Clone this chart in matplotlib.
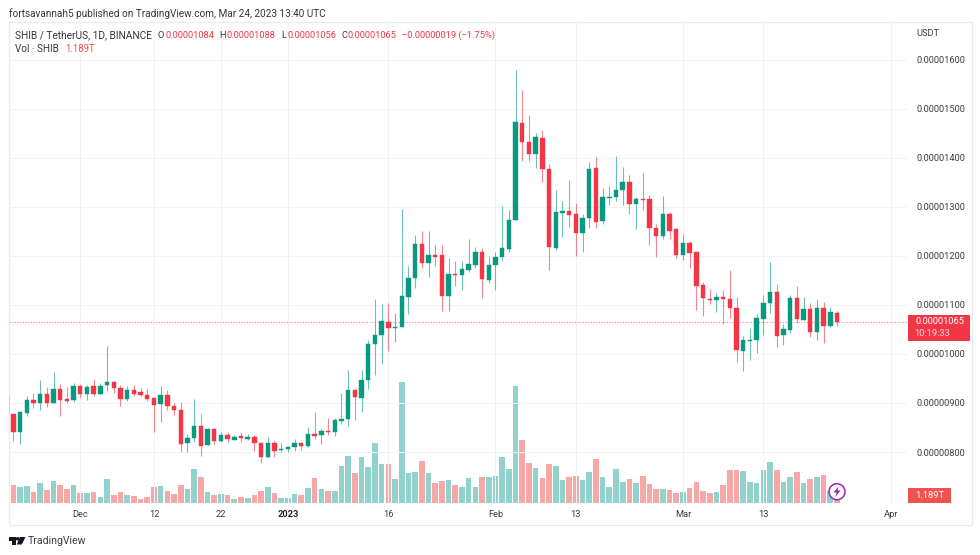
import matplotlib
matplotlib.use("Agg")
import matplotlib.pyplot as plt
from matplotlib.patches import Rectangle, Polygon, Ellipse
from matplotlib.ticker import FuncFormatter

plt.rcParams['font.family'] = ['Roboto', 'DejaVu Sans']

W, H = 980, 555

# days counted from 1 Dec 2022; prices in 1e-8 USDT, volume in trillions of SHIB
first_day = -11
opens = [915,878,841,880,906,900,918,900,928,909,906,
         935,919,934,918,936,942,931,908,927,922,
         917,910,897,917,894,886,818,829,853,814,
         846,823,834,824,832,826,830,819,790,819,
         804,806,811,819,813,837,835,843,841,864,
         867,926,911,946,1021,1039,1065,1053,1055,1116,
         1154,1223,1186,1201,1201,1119,1163,1161,1171,1182,
         1208,1150,1182,1197,1214,1272,1471,1432,1408,1440,
         1377,1215,1288,1291,1285,1247,1276,1378,1270,1317,
         1319,1334,1351,1306,1316,1316,1256,1241,1285,1254,
         1202,1226,1207,1140,1112,1110,1116,1112,1094,1006,
         1026,1029,1072,1103,1126,1038,1049,1114,1070,1092,
         1044,1094,1057,1084]
highs = [915,878,884,915,921,947,932,964,938,932,940,
         938,936,949,940,1016,945,937,934,937,930,
         928,911,935,926,900,902,836,909,878,849,
         848,841,841,834,839,836,834,819,830,823,
         819,813,826,821,851,881,847,870,869,920,
         968,927,968,1029,1112,1102,1103,1083,1296,1179,
         1243,1251,1251,1222,1222,1195,1190,1190,1234,1218,
         1215,1200,1207,1301,1293,1579,1538,1486,1451,1457,
         1387,1334,1312,1355,1307,1285,1391,1402,1338,1343,
         1403,1380,1364,1319,1369,1324,1265,1321,1289,1256,
         1245,1230,1207,1146,1133,1124,1131,1170,1116,1036,
         1052,1082,1120,1187,1143,1061,1120,1138,1116,1103,
         1111,1106,1096,1088]
lows = [878,823,817,874,889,885,892,900,874,900,901,
        910,906,915,918,925,921,893,904,915,915,
        905,840,861,885,875,800,800,820,792,814,
        816,820,820,824,820,824,803,777,788,790,
        800,800,802,804,811,827,817,835,832,858,
        854,866,881,929,957,980,1006,1025,1055,1082,
        1134,1176,1156,1179,1087,1087,1138,1130,1166,1176,
        1113,1145,1131,1192,1207,1272,1394,1394,1378,1351,
        1172,1211,1239,1258,1199,1207,1256,1257,1264,1304,
        1311,1304,1285,1254,1294,1222,1198,1234,1234,1196,
        1192,1175,1089,1078,1101,1086,1061,1073,983,965,
        988,1002,1038,1083,1015,1019,1042,1063,1070,1034,
        1029,1023,1054,1056]
closes = [878,841,881,906,900,919,900,928,907,905,935,
          919,932,918,935,942,930,908,927,919,917,
          908,896,916,894,885,817,828,853,813,846,
          823,834,826,831,828,831,818,790,819,803,
          807,811,819,813,836,833,843,841,865,867,
          927,913,947,1021,1039,1067,1052,1055,1118,1155,
          1224,1186,1201,1198,1119,1163,1161,1174,1183,1208,
          1152,1182,1198,1215,1273,1473,1431,1408,1442,1376,
          1217,1289,1291,1284,1247,1277,1376,1269,1319,1320,
          1334,1351,1306,1316,1314,1256,1241,1285,1251,1202,
          1227,1206,1139,1113,1109,1116,1112,1093,1007,1028,
          1029,1073,1104,1127,1037,1050,1114,1071,1092,1044,
          1093,1057,1085,1065]
volumes = [2.04,3.06,2.60,2.83,1.81,3.40,2.15,3.62,3.06,2.26,3.06,
           1.58,1.58,1.81,1.02,4.08,1.36,1.81,1.36,1.13,0.68,
           1.02,2.60,2.83,1.92,1.47,3.06,2.38,5.66,4.30,1.81,
           1.36,1.47,1.25,0.57,1.02,0.79,1.25,2.04,2.72,1.58,
           0.79,0.79,1.47,1.36,2.49,4.19,2.38,2.04,1.92,6.23,
           7.92,5.09,7.81,6.11,10.07,6.57,6.57,3.96,20.43,4.98,
           5.21,7.02,4.98,3.28,3.62,3.85,2.94,2.60,4.19,2.72,
           4.41,4.30,4.53,7.70,5.77,19.75,10.64,6.68,5.89,4.19,
           6.57,6.23,3.85,4.41,4.53,3.85,5.21,7.47,4.30,2.60,
           5.66,3.51,3.96,3.28,4.53,3.17,2.38,2.26,2.15,1.70,
           1.81,2.49,3.51,2.04,1.58,1.81,3.06,5.55,5.55,5.43,
           3.51,3.40,5.55,6.91,5.55,3.51,4.30,5.21,3.40,3.96,
           4.41,4.64,1.92,1.189]
price_ticks = [800,900,1000,1100,1200,1300,1400,1500,1600]
date_ticks = [0,11,21,31,46,62,74,90,102,121]
date_labels = ['Dec','12','22','2023','16','Feb','13','Mar','13','Apr']
last_price = 1065

UP, DOWN = '#089981', '#f23645'
VUP, VDOWN = '#26a69a', '#ef5350'
GRID = '#f2f3f6'
FRAME = '#e9ebf0'
TXT = '#3a3d45'

days = [first_day + i for i in range(len(opens))]
cols = [DOWN if c < o else UP for o, c in zip(opens, closes)]
vcols = [VDOWN if c < o else VUP for o, c in zip(opens, closes)]

fig = plt.figure(figsize=(W/100, H/100), dpi=100, facecolor='white')

L, R, T, B = 8.5, 906.7, 22.0, 502.7
def rect(l, t, w, h):
    return [l/W, 1-(t+h)/H, w/W, h/H]
def fx(x): return x/W
def fy(y): return 1-y/H

ax = fig.add_axes(rect(L, T, R-L, B-T))
ax.set_xlim(-10.72, 123.41)
ax.set_ylim(696.7, 1676.5)
vax = ax.twinx()
vax.set_ylim(0, 81.7)
ax.set_zorder(vax.get_zorder()+1)
ax.patch.set_visible(False)
vax.patch.set_facecolor('white')

for s in list(ax.spines.values())+list(vax.spines.values()):
    s.set_visible(False)

vax.set_yticks([])
vax.bar(days, volumes, width=0.84, color=vcols, alpha=0.5, linewidth=0, zorder=2)

ax.set_axisbelow(True)
ax.set_yticks(price_ticks)
ax.yaxis.tick_right()
ax.yaxis.set_major_formatter(FuncFormatter(lambda v, p: f"{v*1e-8:.8f}"))
ax.set_xticks(date_ticks)
ax.set_xticklabels(date_labels)
ax.tick_params(axis='both', length=0, labelsize=6.7, labelcolor=TXT)
ax.tick_params(axis='y', pad=7)
ax.tick_params(axis='x', pad=5.5)
for lbl in ax.get_xticklabels():
    if lbl.get_text() == '2023':
        lbl.set_fontweight('bold')
        lbl.set_color('#222222')
ax.grid(True, color=GRID, linewidth=0.72)

ax.vlines(days, lows, highs, colors=cols, linewidth=0.8, alpha=0.6, zorder=3)
ax.bar(days, [abs(c-o) for o, c in zip(opens, closes)],
       bottom=[min(o, c) for o, c in zip(opens, closes)],
       width=0.66, color=cols, edgecolor=cols, linewidth=0.3, zorder=4)
ax.axhline(last_price, color=DOWN, linewidth=0.8, linestyle=(0, (1, 1.4)), alpha=0.55, zorder=2.5)

# chart frame
fig.add_artist(Rectangle((fx(8.5), fy(525)), (972-8.5)/W, (525-22)/H, transform=fig.transFigure,
                         facecolor='none', edgecolor=FRAME, linewidth=0.9))

# price and volume tags
fig.add_artist(Rectangle((fx(907.7), fy(340.7)), 62.3/W, 25.7/H, transform=fig.transFigure,
                         facecolor=DOWN, edgecolor='none'))
fig.text(fx(940), fy(322), f"{last_price*1e-8:.8f}", color='white', fontsize=6.7, ha='center', va='center')
fig.text(fx(932.5), fy(333.7), '10:19:33', color='#ffd6da', fontsize=6.7, ha='center', va='center')
fig.add_artist(Rectangle((fx(907.7), fy(502.7)), 43/W, 14.5/H, transform=fig.transFigure,
                         facecolor=VDOWN, edgecolor='none'))
fig.text(fx(929.3), fy(495.6), f"{volumes[-1]:.3f}T", color='white', fontsize=6.7, ha='center', va='center')
fig.text(fx(916), fy(33.5), 'USDT', color=TXT, fontsize=6.7, ha='left', va='center')

# header
fig.text(fx(8.5), fy(13.5), 'fortsavannah5 published on TradingView.com, Mar 24, 2023 13:40 UTC',
         color='#33363d', fontsize=7.2, ha='left', va='center')
fig.text(fx(15), fy(35), 'SHIB / TetherUS, 1D, BINANCE', color='#33363d', fontsize=7.25, ha='left', va='center')
for x, s, c in [(157.5, 'O', '#33363d'), (165, '0.00001084', DOWN),
                (219.5, 'H', '#33363d'), (226.5, '0.00001088', DOWN),
                (281, 'L', '#33363d'), (287, '0.00001056', DOWN),
                (341.5, 'C', '#33363d'), (348, '0.00001065', DOWN),
                (402, '\u22120.00000019 (\u22121.75%)', DOWN)]:
    fig.text(fx(x), fy(35), s, color=c, fontsize=6.7, ha='left', va='center')
fig.text(fx(15), fy(49), 'Vol \u00b7 SHIB', color='#33363d', fontsize=7.1, ha='left', va='center')
fig.text(fx(65), fy(49), f"{volumes[-1]:.3f}T", color=VDOWN, fontsize=6.9, ha='left', va='center')

# lightning badge
bx, by, r = 837, 491.7, 8
fig.add_artist(Ellipse((fx(bx), fy(by)), 2*r/W, 2*r/H, transform=fig.transFigure,
                       facecolor='white', edgecolor='#9c27b0', linewidth=1.1, zorder=10))
bolt = [(838.5, 486.5), (833.5, 492.5), (836.5, 492.5), (835.5, 497), (840.5, 490.5), (837.5, 490.5)]
fig.add_artist(Polygon([(fx(x), fy(y)) for x, y in bolt], closed=True, transform=fig.transFigure,
                       facecolor='#9c27b0', edgecolor='none', zorder=11))

# TradingView wordmark
logo_col = '#131722'
logo = [[(8.5, 537), (15.5, 537), (15.5, 544.5), (12, 544.5), (12, 540.5), (8.5, 540.5)],
        [(19.8, 537), (25.5, 537), (21.8, 544.5), (16.8, 544.5)]]
for poly in logo:
    fig.add_artist(Polygon([(fx(x), fy(y)) for x, y in poly], closed=True, transform=fig.transFigure,
                           facecolor=logo_col, edgecolor='none'))
fig.add_artist(Ellipse((fx(17.6), fy(538.8)), 3.6/W, 3.6/H, transform=fig.transFigure,
                       facecolor=logo_col, edgecolor='none'))
fig.text(fx(28), fy(541), 'TradingView', color='#3a3d45', fontsize=7.6, ha='left', va='center')

fig.savefig('out.png', dpi=100, facecolor='white')
